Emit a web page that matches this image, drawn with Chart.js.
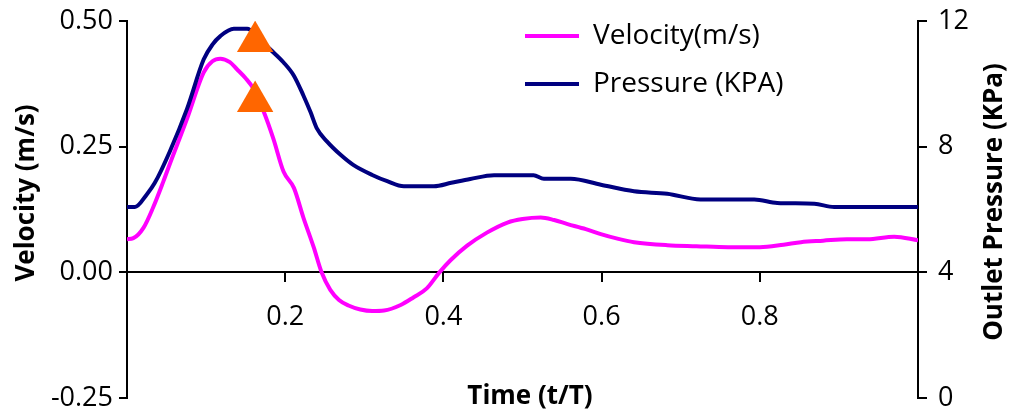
<!DOCTYPE html>
<html>
<head>
<meta charset="utf-8">
<script src="https://cdn.jsdelivr.net/npm/chart.js@4.4.0/dist/chart.umd.min.js"></script>
<style>
  html, body { margin: 0; padding: 0; background: #fff; }
</style>
</head>
<body>
<canvas id="flowChart" width="1016" height="419"></canvas>
<script>
// values
const velTime = [0, 0.008, 0.021, 0.033, 0.046, 0.054, 0.076, 0.097, 0.108, 0.118, 0.13, 0.139, 0.15, 0.16, 0.173, 0.185, 0.198, 0.211, 0.223, 0.236, 0.246, 0.257, 0.268, 0.28, 0.295, 0.31, 0.325, 0.346, 0.362, 0.379, 0.395, 0.409, 0.43, 0.455, 0.481, 0.5, 0.523, 0.54, 0.557, 0.58, 0.599, 0.62, 0.641, 0.683, 0.72, 0.76, 0.8, 0.83, 0.852, 0.88, 0.91, 0.936, 0.97, 1.0];
const velocity = [0.066, 0.068, 0.089, 0.129, 0.181, 0.215, 0.306, 0.398, 0.42, 0.425, 0.418, 0.404, 0.386, 0.365, 0.319, 0.266, 0.2, 0.168, 0.109, 0.05, 0.0, -0.035, -0.055, -0.066, -0.074, -0.077, -0.076, -0.065, -0.05, -0.032, 0.0, 0.024, 0.053, 0.079, 0.099, 0.106, 0.109, 0.104, 0.096, 0.086, 0.076, 0.067, 0.06, 0.054, 0.052, 0.05, 0.05, 0.055, 0.06, 0.063, 0.066, 0.066, 0.071, 0.064];

const presTime = [0, 0.01, 0.025, 0.035, 0.054, 0.076, 0.097, 0.108, 0.118, 0.135, 0.152, 0.165, 0.181, 0.198, 0.211, 0.223, 0.232, 0.24, 0.253, 0.27, 0.286, 0.31, 0.329, 0.35, 0.388, 0.41, 0.434, 0.464, 0.514, 0.527, 0.561, 0.599, 0.641, 0.683, 0.725, 0.793, 0.822, 0.869, 0.894, 1.0];
const pressure = [6.08, 6.08, 6.48, 6.84, 7.84, 9.21, 10.78, 11.25, 11.52, 11.75, 11.75, 11.5, 11.1, 10.68, 10.26, 9.63, 9.1, 8.58, 8.16, 7.74, 7.42, 7.1, 6.9, 6.74, 6.74, 6.85, 6.97, 7.09, 7.09, 6.98, 6.98, 6.79, 6.58, 6.5, 6.32, 6.32, 6.21, 6.18, 6.08, 6.08];

const markerTime = [0.162, 0.162];
const markerVel = [0.459, 0.34];

const seriesNames = ['Velocity(m/s)', 'Pressure (KPA)'];
const axisTitles = ['Time (t/T)', 'Velocity (m/s)', 'Outlet Pressure (KPa)'];

const FONT = '"Open Sans", "DejaVu Sans", sans-serif';

function toPoints(xs, ys) {
    return xs.map((x, i) => ({ x: x, y: ys[i] }));
}

// no extra room for half tick labels, the plot box is fixed
function fixWidth(w) {
    return scale => {
        scale.width = w;
        scale.paddingTop = 0;
        scale.paddingBottom = 0;
    };
}

// the legend sits inside the plot, top middle-right
const legendPlace = {
    id: 'legendPlace',
    afterLayout(chart) {
        const lg = chart.legend;
        const w = lg.width, h = lg.height;
        lg.left = 505;
        lg.top = 2;
        lg.right = lg.left + w;
        lg.bottom = lg.top + h;
    }
};

// axis titles (right one reads bottom to top, like the left one)
const axisTitlePlugin = {
    id: 'axisTitles',
    afterDraw(chart) {
        const ctx = chart.ctx;
        ctx.save();
        ctx.font = 'bold 26px ' + FONT;
        ctx.fillStyle = '#000';
        ctx.textAlign = 'center';
        ctx.textBaseline = 'middle';
        ctx.fillText(axisTitles[0], 530, 397);
        ctx.translate(27, 193);
        ctx.rotate(-Math.PI / 2);
        ctx.fillText(axisTitles[1], 0, 0);
        ctx.setTransform(1, 0, 0, 1, 0, 0);
        ctx.translate(995, 202);
        ctx.rotate(-Math.PI / 2);
        ctx.fillText(axisTitles[2], 0, 0);
        ctx.restore();
    }
};

const ctx = document.getElementById('flowChart').getContext('2d');

new Chart(ctx, {
    type: 'line',
    data: {
        datasets: [{
            label: seriesNames[0],
            data: toPoints(velTime, velocity),
            borderColor: '#FF00FF',
            backgroundColor: '#FF00FF',
            borderWidth: 4,
            pointRadius: 0,
            cubicInterpolationMode: 'monotone',
            yAxisID: 'y',
            order: 2
        }, {
            label: seriesNames[1],
            data: toPoints(presTime, pressure),
            borderColor: '#000080',
            backgroundColor: '#000080',
            borderWidth: 4,
            pointRadius: 0,
            cubicInterpolationMode: 'monotone',
            yAxisID: 'y2',
            order: 1
        }, {
            label: '',
            data: toPoints(markerTime, markerVel),
            showLine: false,
            pointStyle: 'triangle',
            pointRadius: 21,
            pointHoverRadius: 21,
            pointBorderWidth: 0,
            backgroundColor: '#FF6600',
            borderColor: '#FF6600',
            yAxisID: 'y',
            order: 0
        }]
    },
    options: {
        responsive: false,
        animation: false,
        events: [],
        layout: { padding: { top: 18, bottom: 0, left: 0, right: 0 } },
        plugins: {
            tooltip: { enabled: false },
            legend: {
                position: 'chartArea',
                align: 'start',
                labels: {
                    usePointStyle: true,
                    pointStyle: 'line',
                    pointStyleWidth: 54,
                    padding: 20,
                    color: '#000',
                    font: { family: FONT, size: 28 },
                    filter: item => item.datasetIndex < 2,
                    sort: (a, b) => a.datasetIndex - b.datasetIndex
                }
            }
        },
        scales: {
            x: {
                type: 'linear',
                position: { y: 0 },
                min: 0,
                max: 1,
                afterFit: scale => {
                    scale.height = 21;
                    scale.paddingLeft = 0;
                    scale.paddingRight = 0;
                },
                border: { display: true, color: '#000', width: 2 },
                grid: {
                    drawOnChartArea: false,
                    tickLength: 9,
                    lineWidth: 2,
                    color: c => (c.tick && (c.tick.value < 0.01 || c.tick.value > 0.99)) ? 'rgba(0,0,0,0)' : '#000'
                },
                ticks: {
                    stepSize: 0.2,
                    padding: 20,
                    color: '#000',
                    font: { family: FONT, size: 27 },
                    maxRotation: 0,
                    callback: v => (v > 0.01 && v < 0.99) ? v.toFixed(1) : ''
                }
            },
            y: {
                position: 'left',
                min: -0.25,
                max: 0.5,
                afterFit: fixWidth(127),
                border: { display: true, color: '#000', width: 2 },
                grid: { drawOnChartArea: false, tickLength: 8, lineWidth: 2, color: '#000' },
                ticks: {
                    stepSize: 0.25,
                    padding: 6,
                    color: '#000',
                    font: { family: FONT, size: 27 },
                    callback: v => v.toFixed(2)
                }
            },
            y2: {
                position: 'right',
                min: 0,
                max: 12,
                afterFit: fixWidth(98),
                border: { display: true, color: '#000', width: 2 },
                grid: { drawOnChartArea: false, tickLength: 9, lineWidth: 2, color: '#000' },
                ticks: {
                    stepSize: 4,
                    padding: 11,
                    color: '#000',
                    font: { family: FONT, size: 27 }
                }
            }
        }
    },
    plugins: [legendPlace, axisTitlePlugin]
});
</script>
</body>
</html>
